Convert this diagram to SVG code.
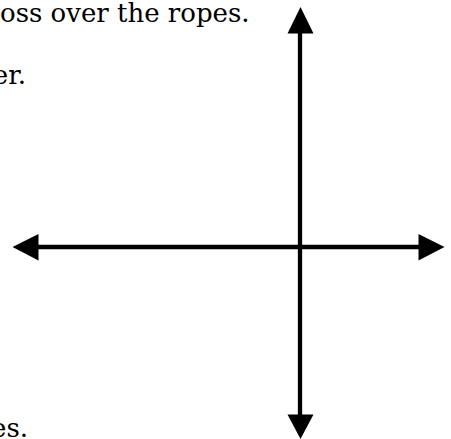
<svg xmlns="http://www.w3.org/2000/svg" width="451" height="439" viewBox="0 0 451 439">
<style>
.t{font-family:"DejaVu Serif","Liberation Serif",serif;font-size:26px;fill:#000}
.e{text-anchor:end}
.ln{stroke:#000;stroke-width:4.3;fill:none}
.hd{fill:#000}
</style>
<rect width="451" height="439" fill="#fff"/>
<g id="text1"><text class="t" x="0" y="22">oss over the ropes.</text></g>
<g id="text2"><text class="t e" x="26" y="84">er.</text></g>
<g id="text3"><text class="t e" x="28" y="437">es.</text></g>
<g id="connectors">
<line class="ln" x1="300" y1="32" x2="300" y2="416"/>
<line class="ln" x1="37" y1="247" x2="419" y2="247"/>
<polygon class="hd" points="300.5,7 313.5,33.5 287.5,33.5"/>
<polygon class="hd" points="300.5,439 313.5,414.5 287.5,414.5"/>
<polygon class="hd" points="12.5,247 38.5,234 38.5,260.5"/>
<polygon class="hd" points="444.5,247 418.5,234 418.5,260.5"/>
</g>
</svg>
